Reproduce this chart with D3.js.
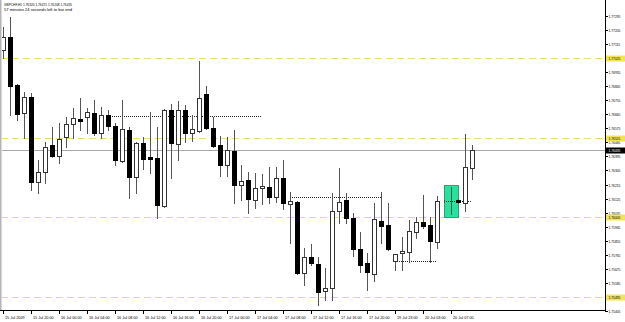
<!DOCTYPE html>
<html><head><meta charset="utf-8">
<script src="https://cdn.jsdelivr.net/npm/d3@7/dist/d3.min.js"></script>
<style>html,body{margin:0;padding:0;background:#fff;overflow:hidden}</style>
</head><body>
<svg id="c" width="625" height="322"></svg>
<script>
const headerLine1 = "GBPCHF,H1  1.76320 1.76471 1.76248 1.76435";
const headerLine2 = "57 minutes 24 seconds left to bar end";

const openP = [1.77076,1.77159,1.76852,1.76673,1.76775,1.76232,1.76295,1.76468,1.76398,1.76519,
1.76603,1.76635,1.76647,1.76673,1.76545,1.76660,1.76590,1.76366,1.76564,1.76264,
1.76481,1.76391,1.76385,1.76078,1.76692,1.76474,1.76692,1.76545,1.76558,1.76795,
1.76577,1.76468,1.76340,1.76430,1.76212,1.76244,1.76116,1.76193,1.76199,1.76135,
1.76257,1.76091,1.76104,1.75649,1.75752,1.75707,1.75534,1.75553,1.76046,1.76116,
1.76001,1.75803,1.75713,1.75642,1.75982,1.75956,1.75726,1.75777,1.75784,1.75912,
1.75976,1.75956,1.75848,1.76110,1.76110,1.76116,1.76097,1.76320];
const highP = [1.77223,1.77287,1.76859,1.76807,1.76801,1.76372,1.76487,1.76583,1.76609,1.76647,
1.76705,1.76769,1.76705,1.76756,1.76711,1.76692,1.76609,1.76756,1.76583,1.76487,
1.76519,1.76679,1.76583,1.76699,1.76731,1.76750,1.76724,1.76660,1.77006,1.76846,
1.76647,1.76526,1.76519,1.76564,1.76340,1.76295,1.76289,1.76283,1.76327,1.76327,
1.76372,1.76168,1.76110,1.75809,1.75835,1.75752,1.75681,1.76161,1.76321,1.76161,
1.76033,1.75912,1.75777,1.76097,1.76168,1.76097,1.75771,1.75879,1.75988,1.76007,
1.76148,1.76007,1.76142,1.76116,1.76199,1.76123,1.76538,1.76471];
const lowP = [1.77025,1.76660,1.76628,1.76513,1.76180,1.76161,1.76225,1.76391,1.76353,1.76455,
1.76513,1.76564,1.76545,1.76532,1.76513,1.76564,1.76340,1.76359,1.76129,1.76161,
1.76315,1.76289,1.76001,1.76072,1.76257,1.76372,1.76487,1.76494,1.76551,1.76571,
1.76455,1.76270,1.76270,1.76097,1.76116,1.76033,1.76065,1.76091,1.76097,1.76104,
1.76059,1.75841,1.75642,1.75572,1.75700,1.75444,1.75476,1.75476,1.75969,1.75969,
1.75758,1.75655,1.75540,1.75598,1.75841,1.75796,1.75668,1.75668,1.75720,1.75873,
1.75937,1.75720,1.75809,1.76104,1.76027,1.76097,1.76046,1.76248];
const closeP = [1.77159,1.76846,1.76667,1.76775,1.76232,1.76295,1.76455,1.76398,1.76506,1.76603,
1.76641,1.76622,1.76679,1.76545,1.76660,1.76590,1.76372,1.76571,1.76264,1.76481,
1.76379,1.76379,1.76084,1.76692,1.76481,1.76692,1.76545,1.76571,1.76769,1.76577,
1.76462,1.76340,1.76436,1.76212,1.76238,1.76123,1.76193,1.76206,1.76135,1.76257,
1.76097,1.76110,1.75649,1.75752,1.75713,1.75528,1.75553,1.76046,1.76104,1.76001,
1.75803,1.75700,1.75655,1.75995,1.75950,1.75803,1.75771,1.75790,1.75918,1.75976,
1.75950,1.75854,1.76110,1.76110,1.76110,1.76104,1.76327,1.76435];

const timeLabels = ["15 Jul 2009","15 Jul 20:00","16 Jul 00:00","16 Jul 04:00","16 Jul 08:00",
"16 Jul 12:00","16 Jul 16:00","16 Jul 20:00","17 Jul 00:00","17 Jul 04:00","17 Jul 08:00",
"17 Jul 12:00","17 Jul 16:00","17 Jul 20:00","19 Jul 23:00","20 Jul 03:00","20 Jul 07:00"];
const timeLabelBars = [0,4,8,12,16,20,24,28,32,36,40,44,48,52,56,60,64];

const priceTicks = ["1.77295","1.77205","1.77115","1.77025","1.76935","1.76845","1.76755","1.76665",
"1.76575","1.76485","1.76395","1.76305","1.76215","1.76125","1.76035","1.75945","1.75855",
"1.75765","1.75675","1.75585","1.75495","1.75405"];

const levelLines = [1.77025, 1.76515, 1.76005, 1.75495];
const currentPrice = 1.76435;

const dotFrom = [15, 41, 56, 63];
const dotTo = [37, 54, 62, 67];
const dotPrice = [1.76654, 1.76135, 1.75726, 1.76110];

const zoneFrom = 63, zoneTo = 65, zoneHigh = 1.76212, zoneLow = 1.76007;

const svg = d3.select("#c");
const font = "'Liberation Sans', Arial, sans-serif";
const plotL = 1, plotR = 605, plotT = 0, plotB = 310;

const y = d3.scaleLinear().domain([1.75495, 1.77025]).range([297, 58]);
const x = d3.scaleLinear().domain([0, 67]).range([3, 472]);
const px = v => Math.round(y(v)) + 0.5;

svg.append("defs").append("clipPath").attr("id","clip")
  .append("rect").attr("x",plotL+1).attr("y",plotT).attr("width",plotR-plotL-1).attr("height",plotB-plotT);

const plot = svg.append("g").attr("clip-path","url(#clip)");

// level lines
plot.selectAll(".lvl").data(levelLines).enter().append("line")
  .attr("x1",plotL).attr("x2",plotR).attr("y1",d=>px(d)).attr("y2",d=>px(d))
  .attr("stroke","#e6dc78").attr("stroke-width",1).attr("stroke-dasharray","7,4");

// current price line
plot.append("line").attr("x1",plotL).attr("x2",plotR)
  .attr("y1",px(currentPrice)).attr("y2",px(currentPrice))
  .attr("stroke","#a8a8a8").attr("stroke-width",1);

// zone
plot.append("rect")
  .attr("x", x(zoneFrom)+0.5).attr("y", px(zoneHigh))
  .attr("width", x(zoneTo)-x(zoneFrom)).attr("height", px(zoneLow)-px(zoneHigh))
  .attr("fill","#25e39c").attr("stroke","#3c9c78").attr("stroke-width",1);

// dotted lines
plot.selectAll(".dot").data(dotPrice).enter().append("line")
  .attr("x1",(d,i)=>x(dotFrom[i])).attr("x2",(d,i)=>x(dotTo[i]))
  .attr("y1",d=>px(d)).attr("y2",d=>px(d))
  .attr("stroke","#222").attr("stroke-width",1).attr("stroke-dasharray","1,1");

// candles
const bars = d3.range(openP.length).map(i => ({i, o:openP[i], h:highP[i], l:lowP[i], c:closeP[i]}));
const g = plot.selectAll(".bar").data(bars).enter().append("g");
g.append("line")
  .attr("x1",d=>Math.round(x(d.i))+0.5).attr("x2",d=>Math.round(x(d.i))+0.5)
  .attr("y1",d=>Math.round(y(d.h))).attr("y2",d=>Math.round(y(d.l))+1)
  .attr("stroke","#555").attr("stroke-width",1);
g.append("rect")
  .attr("x",d=>Math.round(x(d.i))-1.5)
  .attr("y",d=>Math.round(y(Math.max(d.o,d.c)))+0.5)
  .attr("width",4)
  .attr("height",d=>Math.max(0, Math.round(y(Math.min(d.o,d.c))) - Math.round(y(Math.max(d.o,d.c)))))
  .attr("fill",d=>d.c>=d.o ? "#fff" : "#000")
  .attr("stroke",d=>d.c>=d.o ? "#333" : "#000").attr("stroke-width",1);

// frame
svg.append("line").attr("x1",0.5).attr("x2",0.5).attr("y1",0).attr("y2",plotB).attr("stroke","#b4b4b4").attr("stroke-width",2);
svg.append("line").attr("x1",plotR+0.5).attr("x2",plotR+0.5).attr("y1",0).attr("y2",plotB+1).attr("stroke","#000");
svg.append("line").attr("x1",0).attr("x2",plotR+1).attr("y1",plotB+0.5).attr("y2",plotB+0.5).attr("stroke","#000");

// price axis ticks & labels
const ya = svg.append("g");
priceTicks.forEach(t => {
  const yy = px(+t);
  ya.append("line").attr("x1",plotR).attr("x2",plotR+3).attr("y1",yy).attr("y2",yy).attr("stroke","#000");
  ya.append("text").attr("x",plotR+3.5).attr("y",yy).attr("dy","0.35em")
    .attr("font-family",font).attr("font-size",3.3).attr("fill","#000").text(t);
});
levelLines.forEach(v => {
  const yy = px(v);
  ya.append("rect").attr("x",plotR+1).attr("y",yy-3).attr("width",19).attr("height",6).attr("fill","#f1e45a");
  ya.append("text").attr("x",plotR+3.5).attr("y",yy).attr("dy","0.35em")
    .attr("font-family",font).attr("font-size",3.3).attr("fill","#000").text(v.toFixed(5));
});
{
  const yy = px(currentPrice);
  ya.append("rect").attr("x",plotR+1).attr("y",yy-3).attr("width",19).attr("height",6).attr("fill","#000");
  ya.append("text").attr("x",plotR+3.5).attr("y",yy).attr("dy","0.35em")
    .attr("font-family",font).attr("font-size",3.3).attr("fill","#fff").text(currentPrice.toFixed(5));
}

// time axis
const xa = svg.append("g");
timeLabels.forEach((t,k) => {
  const xx = Math.round(x(timeLabelBars[k]))+0.5;
  xa.append("line").attr("x1",xx).attr("x2",xx).attr("y1",plotB+1).attr("y2",plotB+4).attr("stroke","#000");
  xa.append("text").attr("x",xx+1.5).attr("y",319)
    .attr("font-family",font).attr("font-size",3.8).attr("fill","#000").text(t);
});

// header
svg.append("text").attr("x",4).attr("y",6.3).attr("font-family",font).attr("font-size",3.4)
  .attr("textLength",68).attr("lengthAdjust","spacingAndGlyphs").attr("fill","#000").text(headerLine1);
svg.append("text").attr("x",4).attr("y",10.6).attr("font-family",font).attr("font-size",3.8)
  .attr("textLength",68).attr("lengthAdjust","spacingAndGlyphs").attr("fill","#000").text(headerLine2);
</script>
</body></html>
